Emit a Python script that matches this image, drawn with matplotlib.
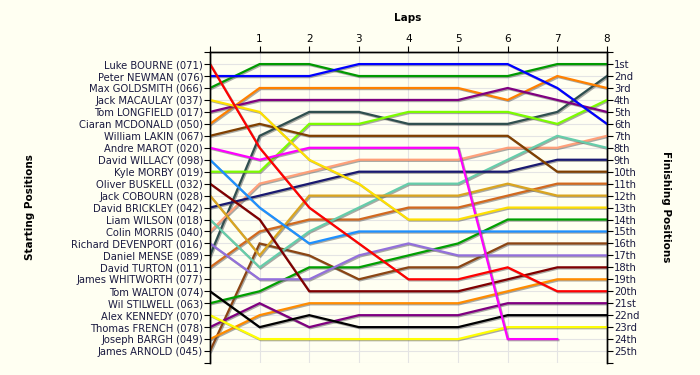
import matplotlib
matplotlib.use("Agg")
import matplotlib.pyplot as plt
import matplotlib.patheffects as pe

# starting grid, in order of starting position
drivers = [
    "Luke BOURNE (071)", "Peter NEWMAN (076)", "Max GOLDSMITH (066)",
    "Jack MACAULAY (037)", "Tom LONGFIELD (017)", "Ciaran MCDONALD (050)",
    "William LAKIN (067)", "Andre MAROT (020)", "David WILLACY (098)",
    "Kyle MORBY (019)", "Oliver BUSKELL (032)", "Jack COBOURN (028)",
    "David BRICKLEY (042)", "Liam WILSON (018)", "Colin MORRIS (040)",
    "Richard DEVENPORT (016)", "Daniel MENSE (089)", "David TURTON (011)",
    "James WHITWORTH (077)", "Tom WALTON (074)", "Wil STILWELL (063)",
    "Alex KENNEDY (070)", "Thomas FRENCH (078)", "Joseph BARGH (049)",
    "James ARNOLD (045)",
]

line_colors = [
    "#ff0000", "#0000ff", "#009a00", "#ffe000", "#800080", "#ff8000",
    "#804000", "#ff00ff", "#1e90ff", "#7cfc00", "#800000", "#daa520",
    "#191970", "#66cdaa", "#ffa07a", "#9370db", "#2f4f4f", "#d2691e",
    "#888888", "#000000", "#00a000", "#ffff00", "#800080", "#ff8c00",
    "#8b4513",
]

# position at laps 0..8 for each starter (empty = no laps)
positions = [
    [1, 8, 13, 16, 19, 19, 18, 20, 20],
    [2, 2, 2, 1, 1, 1, 1, 3, 6],
    [3, 1, 1, 2, 2, 2, 2, 1, 1],
    [4, 5, 9, 11, 14, 14, 13, 13, 13],
    [5, 4, 4, 4, 4, 4, 3, 4, 5],
    [6, 3, 3, 3, 3, 3, 4, 2, 3],
    [7, 6, 7, 7, 7, 7, 7, 10, 10],
    [8, 9, 8, 8, 8, 8, 24, 24],
    [9, 13, 16, 15, 15, 15, 15, 15, 15],
    [10, 10, 6, 6, 5, 5, 5, 6, 4],
    [11, 14, 20, 20, 20, 20, 19, 18, 18],
    [12, 17, 12, 12, 12, 12, 11, 12, 12],
    [13, 12, 11, 10, 10, 10, 10, 9, 9],
    [14, 18, 15, 13, 11, 11, 9, 7, 8],
    [15, 11, 10, 9, 9, 9, 8, 8, 7],
    [16, 19, 19, 17, 16, 17, 17, 17, 17],
    [17, 7, 5, 5, 6, 6, 6, 5, 2],
    [18, 15, 14, 14, 13, 13, 12, 11, 11],
    [],
    [20, 23, 22, 23, 23, 23, 22, 22, 22],
    [21, 20, 18, 18, 17, 16, 14, 14, 14],
    [22, 24, 24, 24, 24, 24, 23, 23, 23],
    [23, 21, 23, 22, 22, 22, 21, 21, 21],
    [24, 22, 21, 21, 21, 21, 20, 19, 19],
    [25, 16, 17, 19, 18, 18, 16, 16, 16],
]

finish_labels = ["1st", "2nd", "3rd"] + [f"{i}th" for i in range(4, 21)] + \
    ["21st", "22nd", "23rd", "24th", "25th"]

n_laps = 8
bg = "#fffff2"
text_col = "#1a1a40"

fig = plt.figure(figsize=(7, 3.75), dpi=100, facecolor=bg)
ax = fig.add_axes([0.3, 0.032, 0.567, 0.829], facecolor=bg)

shadow = [pe.SimpleLineShadow(offset=(0.8, -0.8), shadow_color="#555555", alpha=0.5),
          pe.Normal()]

for i in reversed(range(len(drivers))):
    pos = positions[i]
    if not pos:
        continue
    ax.plot(range(len(pos)), pos, color=line_colors[i], lw=1.6,
            solid_joinstyle="miter", path_effects=shadow, zorder=3)

n = len(drivers)
ax.set_xlim(0, n_laps)
ax.set_ylim(n + 1, 0)

ax.set_xticks(range(n_laps + 1))
ax.set_xticklabels([""] + [str(k) for k in range(1, n_laps + 1)])
ax.xaxis.tick_top()
ax.tick_params(axis="x", direction="out", length=4, pad=2, labelsize=7.5,
               colors="black", labelcolor="black")

ax.set_yticks(range(n + 2))
ax.set_yticklabels([""] + drivers + [""])
ax.tick_params(axis="y", direction="out", length=4, pad=1, labelsize=7.2,
               labelcolor=text_col)

ax2 = ax.twinx()
ax2.set_ylim(n + 1, 0)
ax2.set_yticks(range(n + 2))
ax2.set_yticklabels([""] + finish_labels + [""])
ax2.tick_params(axis="y", direction="out", length=4, pad=1, labelsize=7.2,
                labelcolor=text_col)

ax.grid(True, color="#e4e4e4", lw=0.8, zorder=0)
ax.set_axisbelow(True)
for a in (ax, ax2):
    a.spines["bottom"].set_visible(False)
    for s in ("top", "left", "right"):
        a.spines[s].set_linewidth(1.0)

fig.text(0.583, 0.952, "Laps", ha="center", va="center", fontsize=7.5,
         fontweight="bold")
fig.text(0.043, 0.448, "Starting Positions", ha="center", va="center",
         rotation=90, fontsize=7.5, fontweight="bold")
fig.text(0.951, 0.448, "Finishing Positions", ha="center", va="center",
         rotation=270, fontsize=7.5, fontweight="bold")

fig.savefig("out.png", dpi=100, facecolor=bg)
